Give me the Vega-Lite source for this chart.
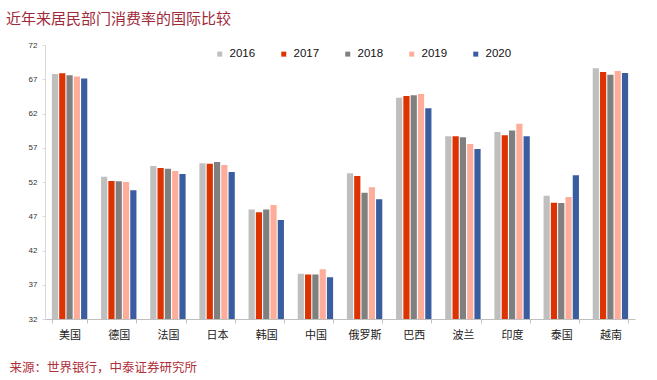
{
  "$schema": "https://vega.github.io/schema/vega-lite/v6.json",
  "autosize": "none",
  "width": 590,
  "height": 274,
  "padding": {"left": 45, "top": 45, "right": 22, "bottom": 61},
  "background": "white",
  "config": {
    "view": {"stroke": null},
    "font": "Liberation Sans, Arial, Noto Sans CJK SC",
    "axis": {"grid": false}
  },
  "title": {
    "text": "近年来居民部门消费率的国际比较",
    "anchor": "start",
    "frame": "group",
    "dx": -39,
    "offset": 7,
    "baseline": "middle",
    "fontSize": 15,
    "fontWeight": "normal",
    "color": "#9E2A3A",
    "font": "Noto Sans CJK SC"
  },
  "data": {
    "values": [
      {"country": "美国", "year": "2016", "value": 67.77},
      {"country": "美国", "year": "2017", "value": 67.87},
      {"country": "美国", "year": "2018", "value": 67.6},
      {"country": "美国", "year": "2019", "value": 67.4},
      {"country": "美国", "year": "2020", "value": 67.1},
      {"country": "德国", "year": "2016", "value": 52.78},
      {"country": "德国", "year": "2017", "value": 52.15},
      {"country": "德国", "year": "2018", "value": 52.1},
      {"country": "德国", "year": "2019", "value": 52.0},
      {"country": "德国", "year": "2020", "value": 50.8},
      {"country": "法国", "year": "2016", "value": 54.34},
      {"country": "法国", "year": "2017", "value": 54.05},
      {"country": "法国", "year": "2018", "value": 53.95},
      {"country": "法国", "year": "2019", "value": 53.6},
      {"country": "法国", "year": "2020", "value": 53.17},
      {"country": "日本", "year": "2016", "value": 54.73},
      {"country": "日本", "year": "2017", "value": 54.68},
      {"country": "日本", "year": "2018", "value": 54.92},
      {"country": "日本", "year": "2019", "value": 54.48},
      {"country": "日本", "year": "2020", "value": 53.46},
      {"country": "韩国", "year": "2016", "value": 48.0},
      {"country": "韩国", "year": "2017", "value": 47.58},
      {"country": "韩国", "year": "2018", "value": 48.0},
      {"country": "韩国", "year": "2019", "value": 48.64},
      {"country": "韩国", "year": "2020", "value": 46.45},
      {"country": "中国", "year": "2016", "value": 38.6},
      {"country": "中国", "year": "2017", "value": 38.5},
      {"country": "中国", "year": "2018", "value": 38.5},
      {"country": "中国", "year": "2019", "value": 39.25},
      {"country": "中国", "year": "2020", "value": 38.1},
      {"country": "俄罗斯", "year": "2016", "value": 53.27},
      {"country": "俄罗斯", "year": "2017", "value": 52.88},
      {"country": "俄罗斯", "year": "2018", "value": 50.42},
      {"country": "俄罗斯", "year": "2019", "value": 51.25},
      {"country": "俄罗斯", "year": "2020", "value": 49.47},
      {"country": "巴西", "year": "2016", "value": 64.3},
      {"country": "巴西", "year": "2017", "value": 64.55},
      {"country": "巴西", "year": "2018", "value": 64.65},
      {"country": "巴西", "year": "2019", "value": 64.85},
      {"country": "巴西", "year": "2020", "value": 62.75},
      {"country": "波兰", "year": "2016", "value": 58.67},
      {"country": "波兰", "year": "2017", "value": 58.67},
      {"country": "波兰", "year": "2018", "value": 58.52},
      {"country": "波兰", "year": "2019", "value": 57.55},
      {"country": "波兰", "year": "2020", "value": 56.82},
      {"country": "印度", "year": "2016", "value": 59.3},
      {"country": "印度", "year": "2017", "value": 58.82},
      {"country": "印度", "year": "2018", "value": 59.53},
      {"country": "印度", "year": "2019", "value": 60.5},
      {"country": "印度", "year": "2020", "value": 58.67},
      {"country": "泰国", "year": "2016", "value": 50.0},
      {"country": "泰国", "year": "2017", "value": 48.98},
      {"country": "泰国", "year": "2018", "value": 48.94},
      {"country": "泰国", "year": "2019", "value": 49.8},
      {"country": "泰国", "year": "2020", "value": 52.97},
      {"country": "越南", "year": "2016", "value": 68.6},
      {"country": "越南", "year": "2017", "value": 68.06},
      {"country": "越南", "year": "2018", "value": 67.67},
      {"country": "越南", "year": "2019", "value": 68.2},
      {"country": "越南", "year": "2020", "value": 67.9}
    ]
  },
  "mark": {"type": "bar", "clip": true},
  "encoding": {
    "x": {
      "field": "country",
      "type": "nominal",
      "sort": null,
      "scale": {"paddingInner": 0.28, "paddingOuter": 0.14},
      "axis": {
        "title": "来源：世界银行，中泰证券研究所",
        "titleX": -36,
        "titleY": 48,
        "titleAlign": "left",
        "titleBaseline": "middle",
        "titleFontSize": 12.5,
        "titleFontWeight": "normal",
        "titleColor": "#B0303A",
        "titleFont": "Noto Sans CJK SC",
        "labelAngle": 0,
        "labelFontSize": 11,
        "labelFont": "Noto Sans CJK SC",
        "labelColor": "#222222",
        "labelPadding": 6,
        "tickBand": "extent",
        "tickSize": 4,
        "tickColor": "#BFBFBF",
        "domainColor": "#BFBFBF"
      }
    },
    "xOffset": {
      "field": "year",
      "type": "nominal",
      "scale": {"paddingInner": 0.15}
    },
    "y": {
      "field": "value",
      "type": "quantitative",
      "scale": {"domain": [32, 72], "nice": false, "zero": false},
      "axis": {
        "title": null,
        "values": [32, 37, 42, 47, 52, 57, 62, 67, 72],
        "labelFontSize": 8,
        "labelColor": "#333333",
        "labelPadding": 5,
        "tickSize": 3,
        "tickColor": "#D9D9D9",
        "domainColor": "#D9D9D9"
      }
    },
    "color": {
      "field": "year",
      "type": "nominal",
      "scale": {
        "domain": ["2016", "2017", "2018", "2019", "2020"],
        "range": ["#BFBFBF", "#DD3300", "#808080", "#FFAD9B", "#3A5DA0"]
      },
      "legend": {
        "title": null,
        "orient": "none",
        "legendX": 169,
        "legendY": 3,
        "direction": "horizontal",
        "padding": 0,
        "symbolType": "square",
        "symbolSize": 25,
        "symbolStrokeWidth": 0,
        "labelFontSize": 11.5,
        "labelColor": "#111111",
        "labelOffset": 4,
        "columnPadding": 22
      }
    }
  }
}
